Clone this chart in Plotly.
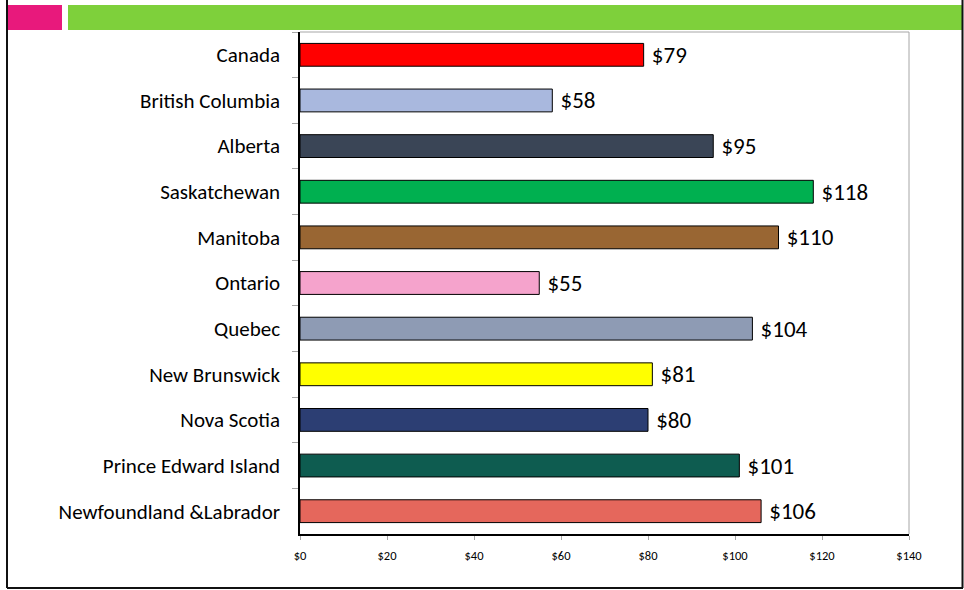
import plotly.graph_objects as go

categories = ["Canada", "British Columbia", "Alberta", "Saskatchewan", "Manitoba",
              "Ontario", "Quebec", "New Brunswick", "Nova Scotia",
              "Prince Edward Island", "Newfoundland &Labrador"]
values = [79, 58, 95, 118, 110, 55, 104, 81, 80, 101, 106]
bar_colors = ["#FF0000", "#A9B8DE", "#3A4556", "#00B050", "#996633", "#F5A3CC",
              "#8E9BB4", "#FFFF00", "#2C3E73", "#0E5C50", "#E5675C"]
x_ticks = [0, 20, 40, 60, 80, 100, 120, 140]
x_tick_labels = ["$" + str(v) for v in x_ticks]
value_labels = ["$" + str(v) for v in values]

W, H = 964, 590
L, R, T, B = 300, 55, 32, 56
pw, ph = W - L - R, H - T - B

def px(x):
    return (x - L) / pw

def py(y):
    return (H - B - y) / ph

FONT = "Carlito, Calibri, Lato, sans-serif"

fig = go.Figure(go.Bar(
    y=categories, x=values, orientation="h",
    marker=dict(color=bar_colors, line=dict(color="#000000", width=1)),
    text=value_labels, texttemplate=" %{text}", textposition="outside", cliponaxis=False,
    constraintext="none",
    textfont=dict(family=FONT, size=23, color="#000000"),
    width=0.5,
))

shapes = [
    # banner
    dict(type="rect", xref="paper", yref="paper", x0=px(8), x1=px(62), y0=py(30), y1=py(5),
         fillcolor="#E8197C", line=dict(width=0), layer="below"),
    dict(type="rect", xref="paper", yref="paper", x0=px(68), x1=px(963), y0=py(30), y1=py(5),
         fillcolor="#7ED03B", line=dict(width=0), layer="below"),
    # outer frame
    dict(type="line", xref="paper", yref="paper", x0=px(7), x1=px(7), y0=py(0), y1=py(588),
         line=dict(color="#111111", width=2)),
    dict(type="line", xref="paper", yref="paper", x0=px(7), x1=px(963), y0=py(588), y1=py(588),
         line=dict(color="#111111", width=2)),
    dict(type="line", xref="paper", yref="paper", x0=px(962.5), x1=px(962.5), y0=py(0), y1=py(588),
         line=dict(color="#111111", width=2)),
    # plot area top/right border
    dict(type="line", xref="paper", yref="paper", x0=0, x1=1, y0=1, y1=1,
         line=dict(color="#A6A6A6", width=1)),
    dict(type="line", xref="paper", yref="paper", x0=1, x1=1, y0=0, y1=1,
         line=dict(color="#A6A6A6", width=1)),
]

fig.update_layout(
    width=W, height=H,
    margin=dict(l=L, r=R, t=T, b=B, pad=0),
    paper_bgcolor="white", plot_bgcolor="white",
    showlegend=False,
    bargap=0.5,
    shapes=shapes,
    font=dict(family=FONT, color="#000000"),
    xaxis=dict(range=[0, 140], tickvals=x_ticks, ticktext=x_tick_labels,
               showgrid=False, zeroline=False,
               showline=True, linecolor="#000000", linewidth=1.5,
               ticks="outside", ticklen=4, tickcolor="#A6A6A6", tickwidth=1,
               ticklabelstandoff=5,
               tickfont=dict(family=FONT, size=12.5, color="#000000"), fixedrange=True),
    yaxis=dict(categoryorder="array", categoryarray=categories, autorange="reversed",
               showgrid=False, zeroline=False,
               showline=True, linecolor="#000000", linewidth=1.5,
               ticks="outside", ticklen=6, tickcolor="#A6A6A6", tickwidth=1,
               tickson="boundaries", ticklabelstandoff=14,
               tickfont=dict(family=FONT, size=21, color="#000000"), fixedrange=True),
)

fig.write_html("out.html", config={"displayModeBar": False},
               post_script="document.body.style.margin='0';document.body.style.overflow='hidden';")
